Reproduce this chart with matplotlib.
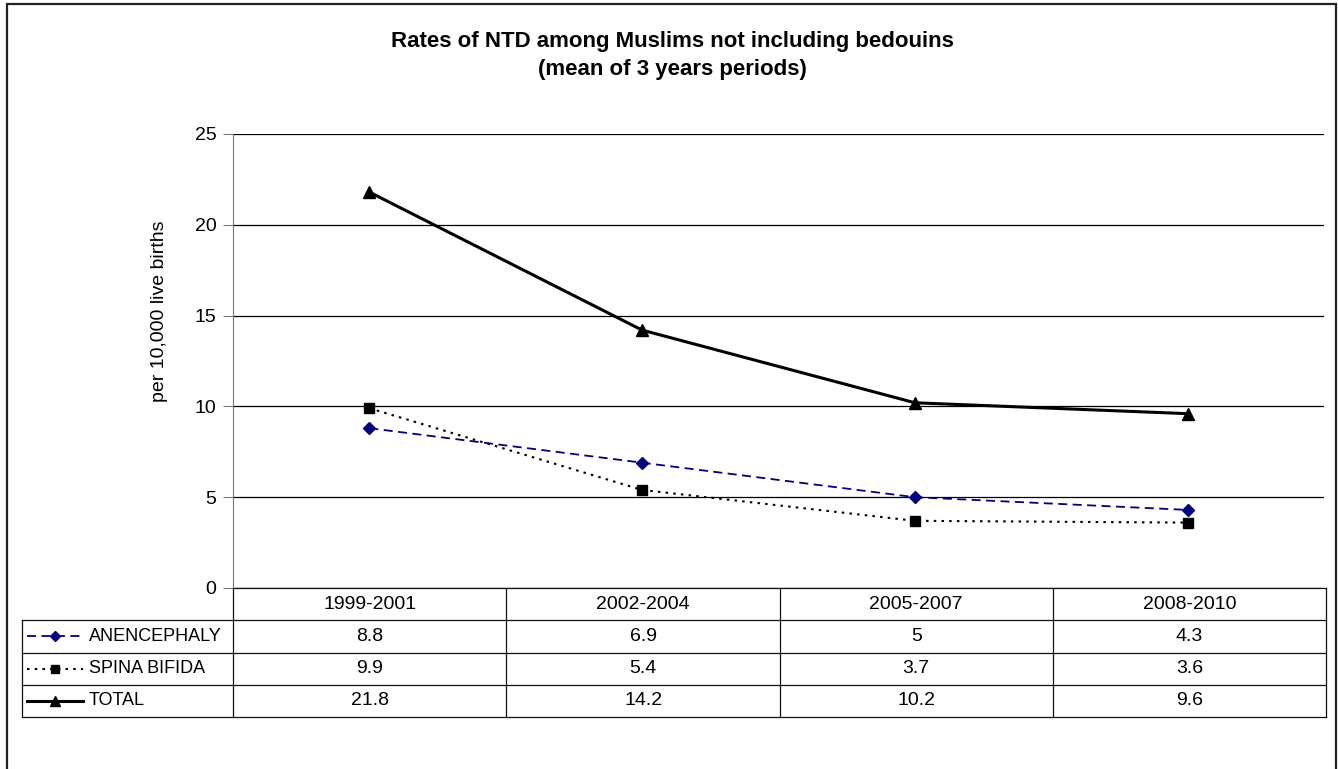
import numpy as np
import matplotlib
matplotlib.use("Agg")
import matplotlib.pyplot as plt
from matplotlib.patches import Rectangle
from matplotlib.lines import Line2D

plt.rcParams['font.family'] = ['Liberation Sans', 'DejaVu Sans']

periods = ["1999-2001", "2002-2004", "2005-2007", "2008-2010"]
series_names = ["ANENCEPHALY", "SPINA BIFIDA", "TOTAL"]
anencephaly = [8.8, 6.9, 5, 4.3]
spina_bifida = [9.9, 5.4, 3.7, 3.6]
total = [21.8, 14.2, 10.2, 9.6]
values = [anencephaly, spina_bifida, total]

styles = [
    dict(color="#000080", linestyle=(0, (5, 3)), linewidth=1.3, marker="D", markersize=6),
    dict(color="black", linestyle=(0, (1.2, 2.5)), linewidth=1.5, marker="s", markersize=6.5),
    dict(color="black", linestyle="-", linewidth=2.2, marker="^", markersize=8.5),
]

W, H = 1338, 769
fig = plt.figure(figsize=(W / 100, H / 100), dpi=100)

def fax(l, t, r, b):
    return [l / W, 1 - b / H, (r - l) / W, (b - t) / H]

# outer frame
fig.patches.append(Rectangle((7 / W, -0.05), (1336 - 7) / W, 1.05 - 4 / H,
                             transform=fig.transFigure, fill=False,
                             edgecolor="#222222", linewidth=1.6, clip_on=False))

ax = fig.add_axes(fax(233, 134, 1324, 588))
x = np.arange(len(periods))
for vals, st in zip(values, styles):
    ax.plot(x, vals, clip_on=False, zorder=3, **st)

ax.set_xlim(-0.5, len(periods) - 0.5)
ax.set_ylim(0, 25)
ax.set_yticks([0, 5, 10, 15, 20, 25])
ax.yaxis.grid(True, color="black", linewidth=0.9)
ax.set_axisbelow(True)
ax.set_xticks([])
for s in ["top", "right", "bottom"]:
    ax.spines[s].set_visible(False)
ax.spines["left"].set_color("#777777")
ax.tick_params(axis="y", length=7, color="#777777", labelsize=14, pad=5)

fig.text(160 / W, 1 - 311 / H, "per 10,000 live births", rotation=90,
         ha="center", va="center", fontsize=14)

fig.text(672 / W, 1 - 42 / H, "Rates of NTD among Muslims not including bedouins",
         ha="center", va="center", fontsize=16, fontweight="bold")
fig.text(672 / W, 1 - 70 / H, "(mean of 3 years periods)",
         ha="center", va="center", fontsize=16, fontweight="bold")

# data table
tab = fig.add_axes(fax(22, 588, 1326, 717))
n = len(periods)
colw = (1324 - 233) / n
left = -0.5 - (233 - 22) / colw
tab.set_xlim(left, n - 0.5)
tab.set_ylim(4, 0)
tab.axis("off")
lc = "#111111"
lw = 0.9
tab.plot([-0.5, n - 0.5], [0, 0], color=lc, lw=lw, clip_on=False)
for r in range(1, 5):
    tab.plot([left, n - 0.5], [r, r], color=lc, lw=lw, clip_on=False)
tab.plot([left, left], [1, 4], color=lc, lw=lw, clip_on=False)
for c in range(n + 1):
    tab.plot([c - 0.5, c - 0.5], [0, 4], color=lc, lw=lw, clip_on=False)
for i, p in enumerate(periods):
    tab.text(i, 0.5, p, ha="center", va="center", fontsize=14)
key_l = left + (27 - 22) / colw
key_w = (83 - 27) / colw
txt_l = left + (89 - 22) / colw
for r, (name, vals, st) in enumerate(zip(series_names, values, styles), start=1):
    tab.add_line(Line2D([key_l, key_l + key_w], [r + 0.5, r + 0.5],
                        color=st["color"], linestyle=st["linestyle"],
                        linewidth=st["linewidth"]))
    tab.plot([key_l + key_w / 2], [r + 0.5], marker=st["marker"], color=st["color"],
             markersize=st["markersize"] * 0.85, linestyle="none")
    tab.text(txt_l, r + 0.5, name, ha="left", va="center", fontsize=13)
    for i, v in enumerate(vals):
        tab.text(i, r + 0.5, f"{v:g}", ha="center", va="center", fontsize=14)

fig.savefig("out.png", dpi=100)
